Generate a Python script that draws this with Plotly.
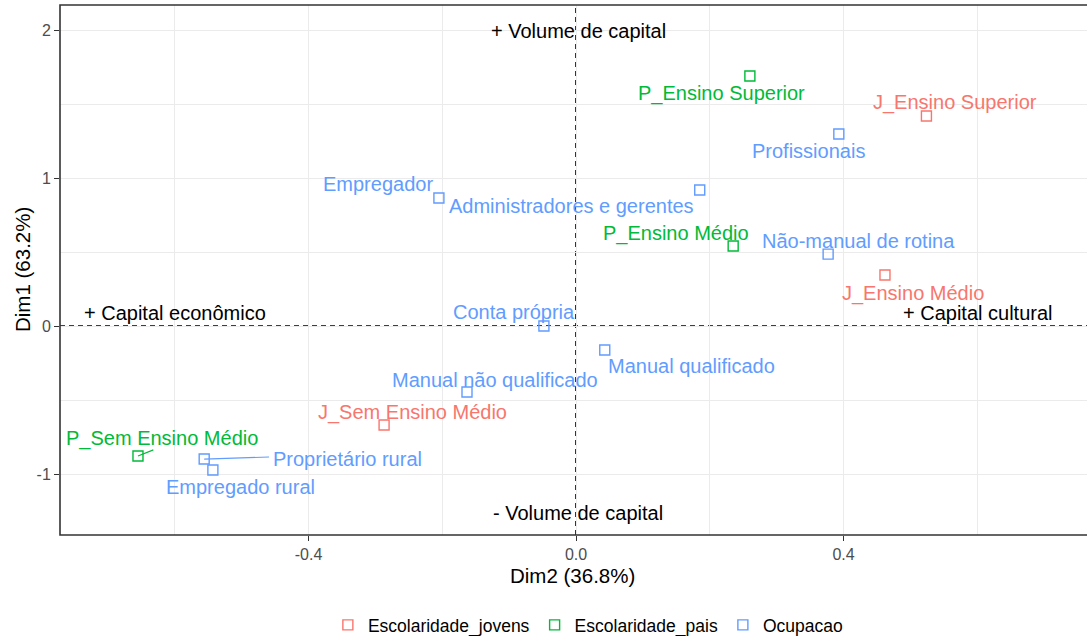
import plotly.graph_objects as go

# ---- data ----
groups = ["Escolaridade_jovens", "Escolaridade_pais", "Ocupacao"]
group_colors = ["#F8766D", "#00BA38", "#619CFF"]

labels = [
    "J_Ensino Superior", "J_Ensino Médio", "J_Sem Ensino Médio",
    "P_Ensino Superior", "P_Ensino Médio", "P_Sem Ensino Médio",
    "Profissionais", "Administradores e gerentes", "Empregador",
    "Não-manual de rotina", "Conta própria", "Manual qualificado",
    "Manual não qualificado", "Proprietário rural", "Empregado rural",
]
label_group = [0, 0, 0, 1, 1, 1, 2, 2, 2, 2, 2, 2, 2, 2, 2]
dim2 = [0.524, 0.462, -0.287, 0.260, 0.235, -0.655, 0.393, 0.185, -0.205,
        0.377, -0.048, 0.043, -0.163, -0.556, -0.543]
dim1 = [1.419, 0.345, -0.669, 1.689, 0.541, -0.878, 1.297, 0.919, 0.865,
        0.486, 0.000, -0.162, -0.446, -0.899, -0.973]
# repelled label positions
lab_x = [0.567, 0.504, -0.245, 0.217, 0.150, -0.619, 0.347, -0.007, -0.296,
         0.422, -0.093, 0.173, -0.121, -0.341, -0.501]
lab_y = [1.507, 0.223, -0.581, 1.574, 0.628, -0.757, 1.182, 0.811, 0.959,
         0.574, 0.095, -0.270, -0.365, -0.899, -1.088]
# connector segments (label index, end x, end y)
seg_idx = [5, 13]
seg_end_x = [-0.632, -0.459]
seg_end_y = [-0.837, -0.885]

quad_text = ["+ Volume de capital", "- Volume de capital",
             "+ Capital econômico", "+ Capital cultural"]
quad_x = [0.003, 0.003, -0.599, 0.601]
quad_y = [1.996, -1.264, 0.088, 0.088]

x_tickvals = [-0.4, 0.0, 0.4]
x_ticktext = ["-0.4", "0.0", "0.4"]
y_tickvals = [-1, 0, 1, 2]
y_ticktext = ["-1", "0", "1", "2"]

x_title = "Dim2 (36.8%)"
y_title = "Dim1 (63.2%)"

FONT = "Liberation Sans, Arial, sans-serif"

fig = go.Figure()

# reference dashed lines
fig.add_shape(type="line", xref="paper", yref="y", x0=0, x1=1.01, y0=0, y1=0,
              line=dict(color="black", width=1.6, dash="5px,4px"), layer="below")
fig.add_shape(type="line", xref="x", yref="paper", x0=0, x1=0, y0=0, y1=1,
              line=dict(color="black", width=1.6, dash="5px,4px"), layer="below")

# connector segments
for k, i in enumerate(seg_idx):
    fig.add_shape(type="line", xref="x", yref="y",
                  x0=dim2[i], y0=dim1[i], x1=seg_end_x[k], y1=seg_end_y[k],
                  line=dict(color=group_colors[label_group[i]], width=1.2))

for g, (gname, gcol) in enumerate(zip(groups, group_colors)):
    xs = [dim2[i] for i in range(len(labels)) if label_group[i] == g]
    ys = [dim1[i] for i in range(len(labels)) if label_group[i] == g]
    fig.add_trace(go.Scatter(
        x=xs, y=ys, mode="markers", name=gname,
        marker=dict(symbol="square-open", size=10, color=gcol,
                    line=dict(width=1.4, color=gcol)),
    ))

for i, lab in enumerate(labels):
    fig.add_annotation(x=lab_x[i], y=lab_y[i], text=lab, showarrow=False,
                       xanchor="center", yanchor="middle",
                       font=dict(family=FONT, size=20,
                                 color=group_colors[label_group[i]]))

for t, qx, qy in zip(quad_text, quad_x, quad_y):
    fig.add_annotation(x=qx, y=qy, text=t, showarrow=False,
                       xanchor="center", yanchor="middle",
                       font=dict(family=FONT, size=20, color="black"))

# axis titles
fig.add_annotation(xref="paper", yref="paper", x=0.4995, y=-0.0755, text=x_title,
                   showarrow=False, xanchor="center", yanchor="middle",
                   font=dict(family=FONT, size=20.5, color="black"))
fig.add_annotation(xref="paper", yref="paper", x=-0.0370, y=0.5, text=y_title,
                   showarrow=False, xanchor="center", yanchor="middle", textangle=-90,
                   font=dict(family=FONT, size=20.5, color="black"))

# panel border (right side runs off the page)
fig.add_shape(type="rect", xref="paper", yref="paper", x0=0, x1=1.01, y0=0, y1=1,
              line=dict(color="#333333", width=1.6), layer="above")

fig.update_layout(
    width=1087, height=636,
    margin=dict(l=60, r=0, t=5, b=101),
    plot_bgcolor="white", paper_bgcolor="white",
    font=dict(family=FONT, color="black"),
    showlegend=True,
    legend=dict(orientation="h", xref="paper", x=0.514, xanchor="center",
                yref="container", y=0.0173, yanchor="middle",
                font=dict(family=FONT, size=17.5, color="black"),
                itemwidth=30, borderwidth=0),
)

fig.update_xaxes(
    range=[-0.7716, 0.7641], tickvals=x_tickvals, ticktext=x_ticktext,
    showgrid=True, gridcolor="#EBEBEB", gridwidth=1.3,
    minor=dict(dtick=0.2, tick0=0, showgrid=True, gridcolor="#EBEBEB", gridwidth=0.8),
    zeroline=False, ticks="outside", ticklen=5, tickcolor="#333333", tickwidth=1.2,
    tickfont=dict(family=FONT, size=16, color="#4D4D4D"),
    automargin=False,
)
fig.update_yaxes(
    range=[-1.412, 2.169], tickvals=y_tickvals, ticktext=y_ticktext,
    showgrid=True, gridcolor="#EBEBEB", gridwidth=1.3,
    minor=dict(dtick=0.5, tick0=0, showgrid=True, gridcolor="#EBEBEB", gridwidth=0.8),
    zeroline=False, ticks="outside", ticklen=5, tickcolor="#333333", tickwidth=1.2,
    tickfont=dict(family=FONT, size=16, color="#4D4D4D"),
    automargin=False,
)

fig.write_html("out.html", config={"displayModeBar": False},
               post_script="document.body.style.margin='0';")
